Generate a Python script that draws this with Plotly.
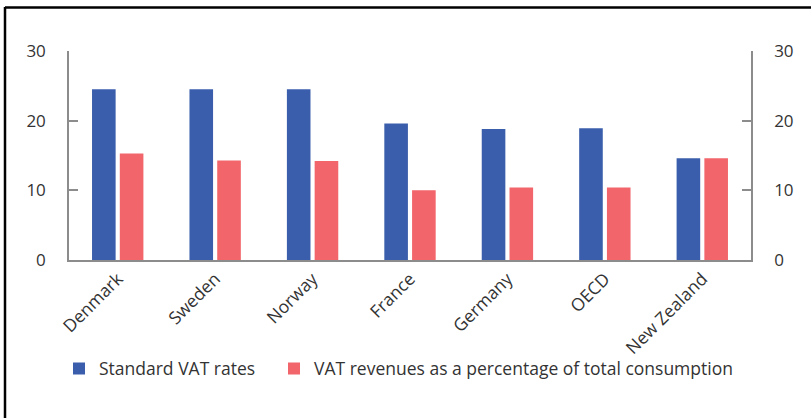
import plotly.graph_objects as go

categories = ["Denmark", "Sweden", "Norway", "France", "Germany", "OECD", "New Zealand"]
vat_rates = [24.5, 24.5, 24.5, 19.6, 18.8, 18.9, 14.6]
vat_revenue = [15.3, 14.3, 14.2, 10.0, 10.4, 10.4, 14.6]
y_ticks = [0, 10, 20, 30]

FONT = "Open Sans"
TXT = "#333333"
AX = "#8c8c8c"
FS = 17.5

fig = go.Figure()
fig.add_trace(go.Bar(x=categories, y=vat_rates, name="Standard VAT rates",
                     marker=dict(color="#3A5EAB", line=dict(width=0)), legend="legend"))
fig.add_trace(go.Bar(x=categories, y=vat_revenue,
                     name="VAT revenues as a percentage of total consumption",
                     marker=dict(color="#F2656A", line=dict(width=0)), legend="legend2"))
fig.add_trace(go.Scatter(x=[], y=[], yaxis="y2", showlegend=False, hoverinfo="skip"))

legend_common = dict(orientation="h", xanchor="left", y=-0.52, yanchor="middle",
                     font=dict(family=FONT, size=FS, color=TXT), itemwidth=30,
                     bgcolor="rgba(0,0,0,0)")

fig.update_layout(
    width=811, height=418,
    margin=dict(l=69, r=60, t=51, b=158, autoexpand=False),
    paper_bgcolor="white", plot_bgcolor="white",
    font=dict(family=FONT, size=FS, color=TXT),
    barmode="group", bargap=0.43, bargroupgap=0.15,
    showlegend=True,
    legend=dict(x=(59 - 69) / 682, **legend_common),
    legend2=dict(x=(274 - 69) / 682, **legend_common),
    xaxis=dict(type="category", range=[-0.5, 6.5], showline=True, linecolor=AX, linewidth=1.5,
               ticks="", tickangle=-45, showgrid=False, zeroline=False,
               tickfont=dict(family=FONT, size=FS, color=TXT)),
    yaxis=dict(range=[0, 30], tickvals=y_ticks, showline=True, linecolor=AX, linewidth=1.5,
               ticks="inside", ticklen=9, tickcolor=AX, tickwidth=1.5,
               showgrid=False, zeroline=False, ticklabelstandoff=18,
               tickfont=dict(family=FONT, size=17, color=TXT)),
    yaxis2=dict(range=[0, 30], tickvals=y_ticks, overlaying="y", side="right",
                showline=True, linecolor=AX, linewidth=1.5,
                ticks="inside", ticklen=9, tickcolor=AX, tickwidth=1.5,
                showgrid=False, zeroline=False, ticklabelstandoff=18,
                tickfont=dict(family=FONT, size=17, color=TXT)),
    shapes=[
        dict(type="line", xref="paper", yref="paper", x0=(5 - 69) / 682, x1=(5 - 69) / 682,
             y0=(260 - 7) / 209, y1=(260 - 430) / 209, line=dict(color="black", width=2.5)),
        dict(type="line", xref="paper", yref="paper", x0=(5 - 69) / 682, x1=(830 - 69) / 682,
             y0=(260 - 7.5) / 209, y1=(260 - 7.5) / 209, line=dict(color="black", width=2.5)),
    ],
)

fig.write_html("out.html", config={"displayModeBar": False},
               post_script="document.body.style.margin='0';")
